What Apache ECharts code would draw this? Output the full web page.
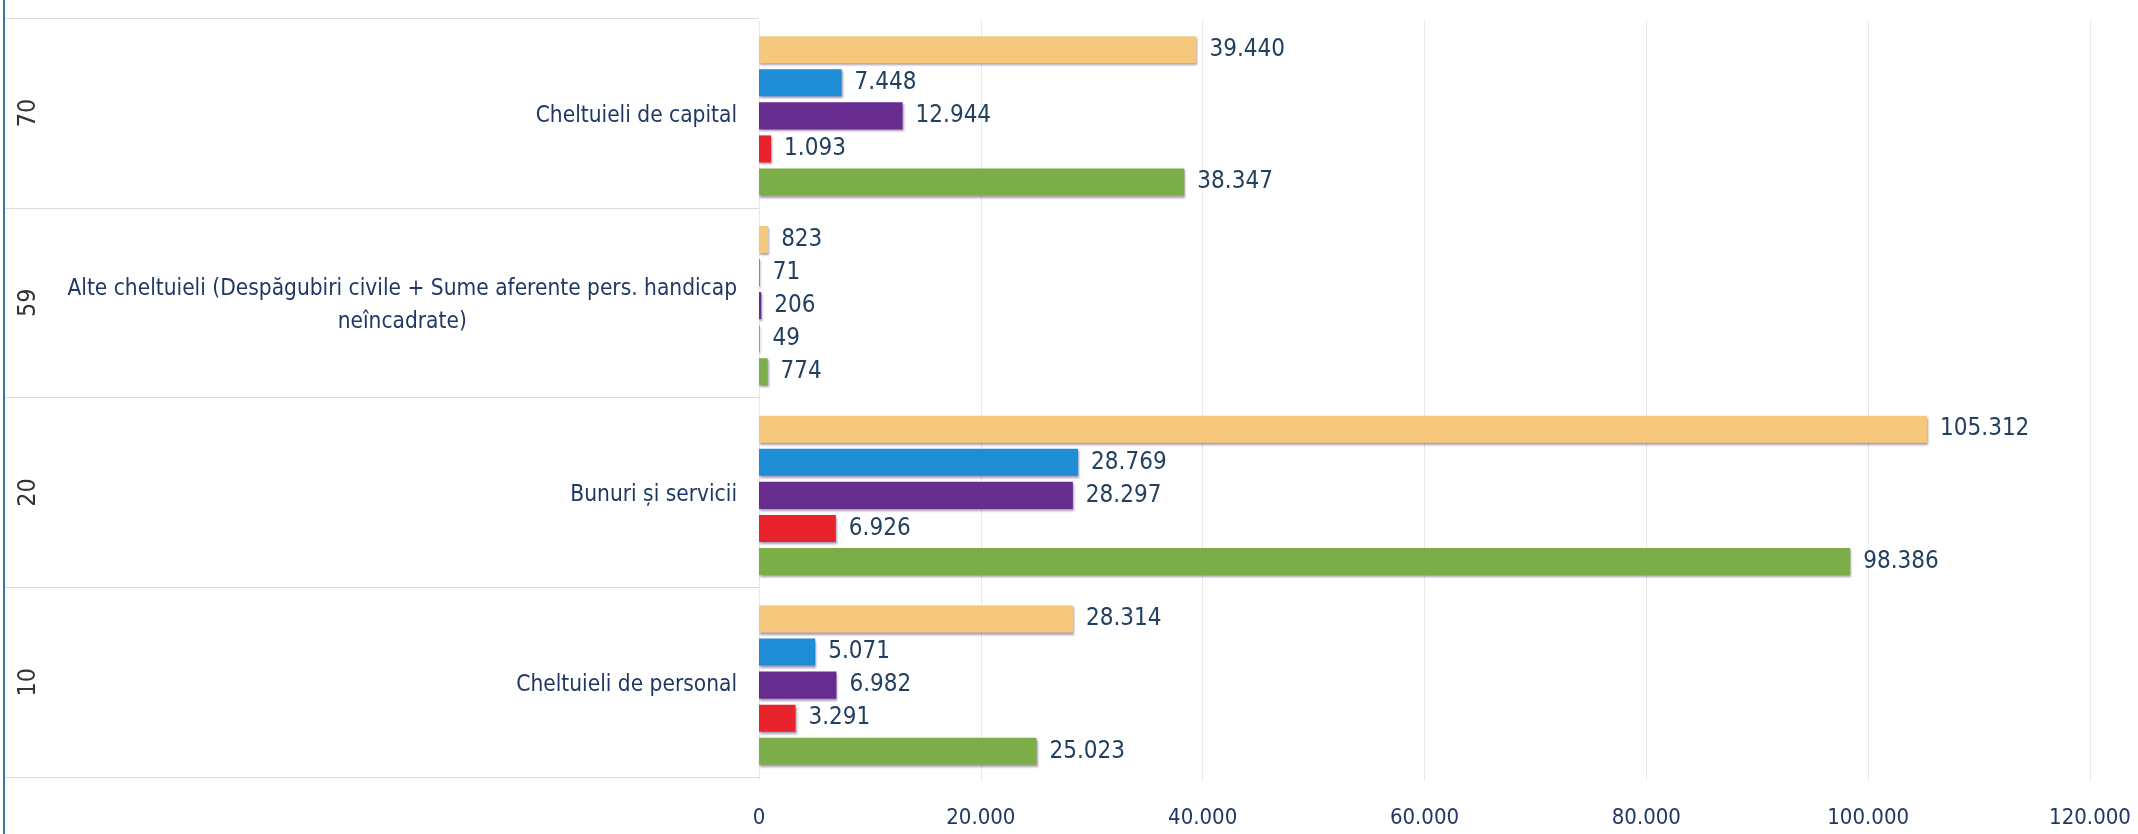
<!DOCTYPE html>
<html>
<head>
<meta charset="utf-8">
<script src="https://cdn.jsdelivr.net/npm/echarts@6/dist/echarts.min.js"></script>
<style>
html,body{margin:0;padding:0;background:#fff;}
#c{width:2138px;height:834px;}
</style>
</head>
<body>
<div id="c"></div>
<script>
// Categories (bottom to top as drawn by the category axis)
const codes = ['10', '20', '59', '70'];
const categories = [
  'Cheltuieli de personal',
  'Bunuri și servicii',
  'Alte cheltuieli (Despăgubiri civile + Sume aferente pers. handicap\nneîncadrate)',
  'Cheltuieli de capital'
];
// Series values (same order as categories)
const seriesNames = ['Seria 1', 'Seria 2', 'Seria 3', 'Seria 4', 'Seria 5'];
const tanValues    = [28314, 105312, 823, 39440];
const blueValues   = [5071, 28769, 71, 7448];
const purpleValues = [6982, 28297, 206, 12944];
const redValues    = [3291, 6926, 49, 1093];
const greenValues  = [25023, 98386, 774, 38347];
const seriesColors = ['#F5C87E', '#1F8DD6', '#662C8E', '#E8232B', '#7BAE48'];
const xTicks = [0, 20000, 40000, 60000, 80000, 100000, 120000];

const FONT = "'Liberation Sans Narrow', 'Arial Narrow', 'DejaVu Sans Condensed', sans-serif";
function fmt(v) { return String(v).replace(/\B(?=(\d{3})+(?!\d))/g, '.'); }

const allValues = [tanValues, blueValues, purpleValues, redValues, greenValues];

const chart = echarts.init(document.getElementById('c'), null, {renderer: 'canvas'});
const option = {
  backgroundColor: '#ffffff',
  animation: false,
  graphic: [{
    type: 'line', shape: {x1: 4, y1: 0, x2: 4, y2: 834},
    style: {stroke: '#3C74AE', lineWidth: 2}, silent: true
  }],
  grid: [
    {left: 759, right: 48, top: 21, bottom: 54, containLabel: false, outerBoundsMode: 'none'},
    {left: 5, right: 2138 - 759, top: 18, bottom: 57, containLabel: false, outerBoundsMode: 'none'}
  ],
  xAxis: [
    {
      type: 'value', gridIndex: 0, min: xTicks[0], max: xTicks[xTicks.length - 1], interval: 20000,
      axisLine: {show: false}, axisTick: {show: false},
      splitLine: {show: true, lineStyle: {color: '#E6E8EA', width: 1}},
      axisLabel: {formatter: fmt, color: '#1F3864', fontFamily: FONT, fontSize: 22, margin: 27}
    },
    {type: 'value', gridIndex: 1, show: false}
  ],
  yAxis: [
    {
      type: 'category', gridIndex: 0, data: categories,
      axisLine: {show: false}, axisTick: {show: false}, splitLine: {show: false},
      axisLabel: {
        color: '#1F3864', fontFamily: FONT, fontSize: 22, margin: 22,
        formatter: function (v) {
          return v.split('\n').map(function (s) { return '{c|' + s + '}'; }).join('\n');
        },
        rich: {c: {align: 'center', color: '#1F3864', fontFamily: FONT, fontSize: 22.5, lineHeight: 33}}
      }
    },
    {
      type: 'category', gridIndex: 1, data: codes, offset: -38,
      axisLine: {show: false}, axisTick: {show: false},
      splitLine: {show: true, lineStyle: {color: '#DADCDF', width: 1}},
      axisLabel: {rotate: 90, color: '#333333', fontFamily: FONT, fontSize: 25, margin: 2}
    }
  ],
  series: seriesNames.map(function (name, i) {
    return {
      name: name, type: 'bar', xAxisIndex: 0, yAxisIndex: 0,
      data: allValues[i],
      barGap: '22%', barCategoryGap: '16%',
      itemStyle: {
        color: seriesColors[i],
        shadowColor: 'rgba(70,40,90,0.45)', shadowBlur: 2, shadowOffsetX: 1, shadowOffsetY: 2
      },
      label: {
        show: true, position: 'right', distance: 13,
        formatter: function (p) { return fmt(p.value); },
        color: '#22405F', fontFamily: FONT, fontSize: 24
      }
    };
  })
};
chart.setOption(option);
</script>
</body>
</html>
